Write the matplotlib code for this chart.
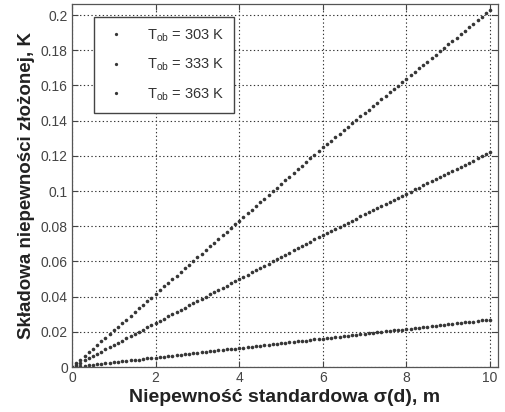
import matplotlib
matplotlib.use("Agg")
import matplotlib.pyplot as plt
import numpy as np

plt.rcParams['font.family'] = ['Liberation Sans', 'DejaVu Sans']
plt.rcParams['mathtext.fontset'] = 'custom'
plt.rcParams['mathtext.rm'] = 'Liberation Sans'

# niepewnosc standardowa sigma(d), m  (punkty co 0.1 m)
sigma_d = np.arange(101) / 10.0

u_303 = [0.0000,
         0.0021, 0.0042, 0.0062, 0.0083, 0.0104, 0.0125, 0.0146, 0.0166, 0.0187, 0.0208,
         0.0229, 0.0250, 0.0270, 0.0291, 0.0312, 0.0333, 0.0354, 0.0374, 0.0395, 0.0416,
         0.0437, 0.0458, 0.0478, 0.0499, 0.0520, 0.0541, 0.0562, 0.0582, 0.0603, 0.0624,
         0.0645, 0.0666, 0.0686, 0.0707, 0.0728, 0.0749, 0.0770, 0.0790, 0.0811, 0.0832,
         0.0853, 0.0874, 0.0894, 0.0915, 0.0936, 0.0957, 0.0978, 0.0998, 0.1019, 0.1040,
         0.1061, 0.1082, 0.1102, 0.1123, 0.1144, 0.1165, 0.1186, 0.1206, 0.1227, 0.1248,
         0.1268, 0.1287, 0.1307, 0.1326, 0.1346, 0.1365, 0.1385, 0.1404, 0.1424, 0.1443,
         0.1463, 0.1482, 0.1502, 0.1521, 0.1541, 0.1560, 0.1580, 0.1599, 0.1619, 0.1638,
         0.1658, 0.1677, 0.1697, 0.1716, 0.1736, 0.1755, 0.1775, 0.1794, 0.1814, 0.1833,
         0.1853, 0.1872, 0.1892, 0.1911, 0.1931, 0.1950, 0.1970, 0.1989, 0.2009, 0.2028]

u_333 = [0.0000,
         0.0013, 0.0025, 0.0038, 0.0050, 0.0063, 0.0075, 0.0088, 0.0100, 0.0113, 0.0125,
         0.0138, 0.0150, 0.0163, 0.0175, 0.0188, 0.0200, 0.0213, 0.0225, 0.0238, 0.0250,
         0.0263, 0.0275, 0.0288, 0.0300, 0.0313, 0.0325, 0.0338, 0.0350, 0.0363, 0.0375,
         0.0388, 0.0400, 0.0413, 0.0425, 0.0438, 0.0450, 0.0463, 0.0475, 0.0488, 0.0500,
         0.0513, 0.0525, 0.0538, 0.0550, 0.0563, 0.0575, 0.0588, 0.0600, 0.0613, 0.0625,
         0.0638, 0.0650, 0.0663, 0.0675, 0.0688, 0.0700, 0.0713, 0.0725, 0.0738, 0.0750,
         0.0762, 0.0774, 0.0785, 0.0797, 0.0809, 0.0821, 0.0832, 0.0844, 0.0856, 0.0868,
         0.0879, 0.0891, 0.0903, 0.0915, 0.0926, 0.0938, 0.0950, 0.0962, 0.0973, 0.0985,
         0.0997, 0.1009, 0.1020, 0.1032, 0.1044, 0.1056, 0.1067, 0.1079, 0.1091, 0.1103,
         0.1114, 0.1126, 0.1138, 0.1150, 0.1161, 0.1173, 0.1185, 0.1197, 0.1208, 0.1220]

u_363 = [0.0000,
         0.0003, 0.0005, 0.0008, 0.0011, 0.0014, 0.0016, 0.0019, 0.0022, 0.0024, 0.0027,
         0.0030, 0.0032, 0.0035, 0.0038, 0.0041, 0.0043, 0.0046, 0.0049, 0.0051, 0.0054,
         0.0057, 0.0059, 0.0062, 0.0065, 0.0068, 0.0070, 0.0073, 0.0076, 0.0078, 0.0081,
         0.0084, 0.0086, 0.0089, 0.0092, 0.0095, 0.0097, 0.0100, 0.0103, 0.0105, 0.0108,
         0.0111, 0.0113, 0.0116, 0.0119, 0.0122, 0.0124, 0.0127, 0.0130, 0.0132, 0.0135,
         0.0138, 0.0140, 0.0143, 0.0146, 0.0149, 0.0151, 0.0154, 0.0157, 0.0159, 0.0162,
         0.0165, 0.0167, 0.0170, 0.0173, 0.0176, 0.0178, 0.0181, 0.0184, 0.0186, 0.0189,
         0.0192, 0.0194, 0.0197, 0.0200, 0.0203, 0.0205, 0.0208, 0.0211, 0.0213, 0.0216,
         0.0219, 0.0221, 0.0224, 0.0227, 0.0230, 0.0232, 0.0235, 0.0238, 0.0240, 0.0243,
         0.0246, 0.0248, 0.0251, 0.0254, 0.0257, 0.0259, 0.0262, 0.0265, 0.0267, 0.0270]

labels = [r'$\mathrm{T_{ob}}$ = 303 K', r'$\mathrm{T_{ob}}$ = 333 K', r'$\mathrm{T_{ob}}$ = 363 K']
x_ticks = [0, 2, 4, 6, 8, 10]
y_ticks = [0, 0.02, 0.04, 0.06, 0.08, 0.1, 0.12, 0.14, 0.16, 0.18, 0.2]

fig = plt.figure(figsize=(5.05, 4.12), dpi=100)
ax = fig.add_axes([0.1426, 0.109, 0.8436, 0.881])

kolor = '#363636'
for u, lab in zip([u_303, u_333, u_363], labels):
    ax.plot(sigma_d, u, linestyle='none', marker='o', markersize=2.6,
            color=kolor, markeredgewidth=0, label=lab)

ax.set_xlim(0, 10.19)
ax.set_ylim(0, 0.2062)
ax.set_xticks(x_ticks)
ax.set_yticks(y_ticks)
ax.set_yticklabels(['%g' % v for v in y_ticks])
ax.tick_params(direction='in', length=4, top=True, right=True,
               labelsize=10, labelcolor='#444444', color='#444444', pad=3)
ax.grid(True, color='#333333', linestyle=(0, (1.2, 2.2)), linewidth=0.8)
for s in ax.spines.values():
    s.set_color('#555555')
    s.set_linewidth(0.9)

ax.set_xlabel('Niepewność standardowa σ(d), m', fontsize=14,
              fontweight='bold', color='#222222', labelpad=3)
ax.set_ylabel('Składowa niepewności złożonej, K', fontsize=13.5,
              fontweight='bold', color='#222222', labelpad=4)

leg = ax.legend(loc='upper left', bbox_to_anchor=(0.052, 0.964), borderaxespad=0,
                fontsize=10.5, labelspacing=0.9, handletextpad=1.3, markerscale=0.9,
                fancybox=False, framealpha=1, borderpad=0.7, handlelength=1.6)
leg.get_frame().set_edgecolor('#444444')
leg.get_frame().set_linewidth(1.0)
for t in leg.get_texts():
    t.set_color('#333333')

fig.savefig('out.png', dpi=100)
